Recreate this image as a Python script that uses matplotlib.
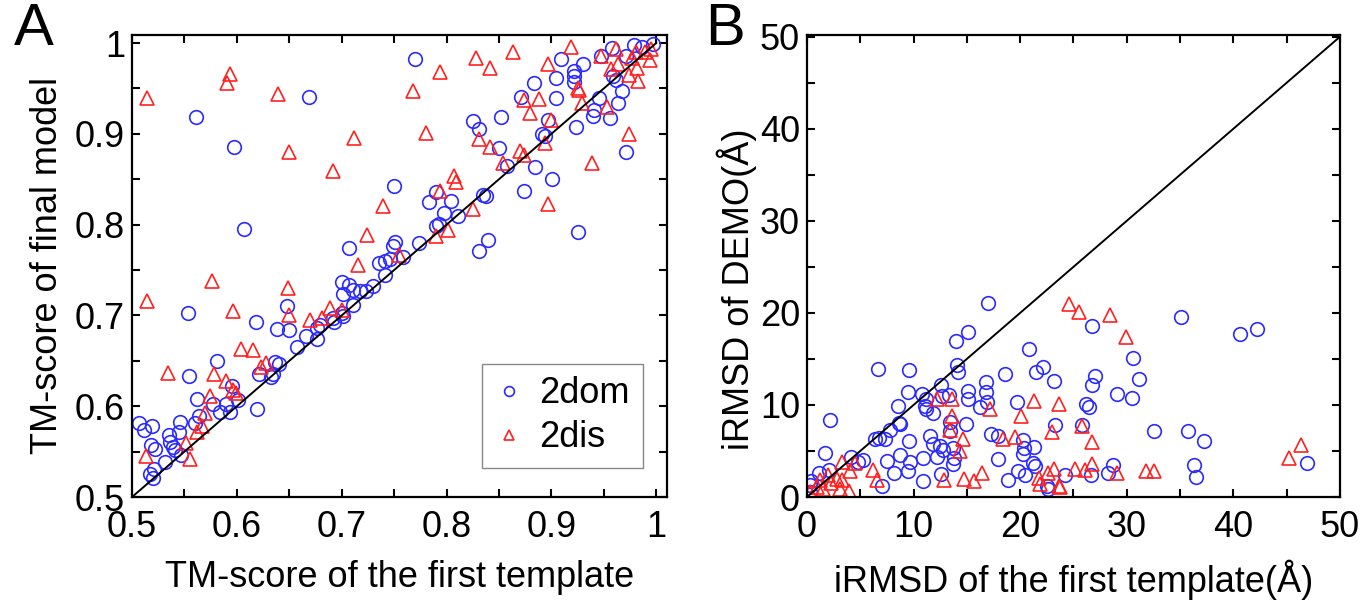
import matplotlib
matplotlib.use("Agg")
import matplotlib.pyplot as plt
from matplotlib.ticker import MultipleLocator

# ---------------- data ----------------

# panel A : TM-score, 2dom (blue circles)
domA_template = [0.669, 0.561, 0.597, 0.750, 0.607, 0.707, 0.749, 0.751,
                 0.770, 0.909, 0.930, 0.922, 0.922, 0.922, 0.947, 0.958, 0.979, 0.986, 0.997, 0.971,
                 0.959, 0.962, 0.967, 0.964, 0.945, 0.941, 0.940, 0.956, 0.971, 0.883, 0.904, 0.904,
                 0.871, 0.852, 0.825, 0.831, 0.897, 0.923, 0.891, 0.894, 0.850, 0.858, 0.884, 0.901,
                 0.874, 0.925, 0.835, 0.838, 0.804, 0.783, 0.790, 0.798, 0.811, 0.790, 0.793, 0.774,
                 0.831, 0.840,
                 0.736, 0.741, 0.746, 0.741, 0.700, 0.707, 0.711, 0.717, 0.723, 0.730, 0.701, 0.711,
                 0.700, 0.701, 0.693, 0.692, 0.676, 0.679, 0.676, 0.666, 0.657, 0.650, 0.638, 0.648,
                 0.618, 0.553, 0.581, 0.554, 0.636, 0.640, 0.621, 0.633, 0.634, 0.619, 0.595, 0.601,
                 0.590, 0.593, 0.584, 0.577, 0.562, 0.564, 0.560, 0.546, 0.545, 0.535, 0.536, 0.539,
                 0.541, 0.547, 0.531, 0.507, 0.511, 0.519, 0.518, 0.522, 0.521, 0.517, 0.520, 0.758]
domA_final = [0.941, 0.918, 0.886, 0.843, 0.795, 0.774, 0.776, 0.781,
              0.982, 0.982, 0.977, 0.969, 0.964, 0.957, 0.986, 0.995, 0.998, 0.996, 0.999, 0.986,
              0.964, 0.959, 0.947, 0.934, 0.939, 0.926, 0.920, 0.917, 0.880, 0.956, 0.961, 0.939,
              0.941, 0.919, 0.914, 0.905, 0.915, 0.907, 0.900, 0.898, 0.884, 0.865, 0.863, 0.850,
              0.837, 0.792, 0.833, 0.831, 0.826, 0.825, 0.836, 0.813, 0.810, 0.799, 0.801, 0.780,
              0.771, 0.783,
              0.758, 0.760, 0.762, 0.745, 0.737, 0.734, 0.728, 0.727, 0.727, 0.732, 0.724, 0.712,
              0.703, 0.699, 0.693, 0.697, 0.686, 0.689, 0.674, 0.677, 0.665, 0.684, 0.685, 0.710,
              0.693, 0.703, 0.650, 0.633, 0.649, 0.647, 0.636, 0.632, 0.636, 0.597, 0.622, 0.607,
              0.603, 0.594, 0.594, 0.602, 0.608, 0.589, 0.581, 0.583, 0.572, 0.568, 0.561, 0.555,
              0.552, 0.546, 0.539, 0.582, 0.574, 0.578, 0.557, 0.553, 0.531, 0.525, 0.521, 0.764]

# panel A : TM-score, 2dis (red triangles)
disA_template = [0.514, 0.593, 0.591, 0.639, 0.650, 0.712, 0.692, 0.739, 0.724,
                 0.828, 0.863, 0.919, 0.794, 0.841, 0.768, 0.897, 0.962, 0.947, 0.981, 0.989,
                 0.995, 0.977, 0.994, 0.964, 0.957, 0.982, 0.974, 0.983, 0.925, 0.926, 0.929,
                 0.953, 0.874, 0.888, 0.880, 0.900, 0.780, 0.831, 0.841, 0.894, 0.870, 0.874,
                 0.854, 0.974, 0.939, 0.807, 0.809, 0.794, 0.897, 0.825, 0.801, 0.790, 0.755,
                 0.716, 0.576, 0.514, 0.649, 0.596, 0.650, 0.689, 0.700, 0.670, 0.681, 0.604,
                 0.615, 0.623, 0.628, 0.534, 0.578, 0.590, 0.596, 0.599, 0.574, 0.570, 0.567,
                 0.562, 0.551, 0.513, 0.555]
disA_final = [0.940, 0.966, 0.956, 0.944, 0.880, 0.895, 0.859, 0.820, 0.789,
              0.983, 0.990, 0.996, 0.968, 0.972, 0.947, 0.977, 0.993, 0.986, 0.990, 0.990,
              0.993, 0.984, 0.981, 0.977, 0.971, 0.972, 0.965, 0.958, 0.951, 0.948, 0.934,
              0.930, 0.937, 0.938, 0.923, 0.915, 0.901, 0.894, 0.885, 0.890, 0.881, 0.877,
              0.868, 0.900, 0.868, 0.854, 0.847, 0.837, 0.823, 0.817, 0.794, 0.788, 0.767,
              0.756, 0.738, 0.716, 0.730, 0.705, 0.700, 0.708, 0.706, 0.695, 0.697, 0.663,
              0.662, 0.643, 0.648, 0.637, 0.636, 0.628, 0.618, 0.615, 0.611, 0.592, 0.578,
              0.572, 0.559, 0.545, 0.542]

# panel B : iRMSD, 2dom (blue circles)
domB_template = [17.0, 15.1, 14.0, 6.7, 9.6, 14.1, 14.2, 20.8, 21.5, 22.1, 18.6, 23.2, 12.6, 16.8,
                 16.8, 15.1, 15.1, 9.5, 10.8, 11.2, 12.7, 13.3, 11.1, 11.2, 11.8, 8.5, 16.2, 16.9,
                 19.7, 2.2, 8.7, 8.6, 7.8, 6.8, 7.3, 6.4, 14.9, 13.4, 13.4, 11.5, 11.8, 12.5, 12.8,
                 9.6, 17.3, 17.9, 20.3, 20.4, 20.3, 21.3, 13.7, 13.8, 13.7, 1.7, 5.3, 7.5, 8.7, 9.7,
                 10.9, 12.2, 17.9, 21.2, 21.4, 9.5, 8.2, 4.1, 4.8, 1.1, 2.1, 0.4, 0.3, 7.0, 10.9,
                 12.6, 19.8, 20.5, 18.9, 22.5, 22.6, 23.3, 24.2, 0.3,
                 35.1, 40.6, 42.2, 26.7, 30.6, 31.1, 27.0, 26.7, 29.1, 30.5, 26.2, 26.5, 25.8,
                 32.6, 35.7, 37.2, 36.3, 36.5, 46.9, 28.7, 28.2, 26.6]
domB_demo = [21.1, 17.9, 17.0, 13.9, 13.8, 14.3, 13.6, 16.1, 13.6, 14.1, 13.4, 12.6, 12.2, 12.5,
             11.4, 11.5, 10.7, 11.4, 11.2, 10.7, 11.0, 11.1, 9.9, 9.6, 9.1, 9.9, 9.8, 10.3,
             10.3, 8.4, 7.9, 8.0, 7.3, 6.4, 6.3, 6.3, 7.9, 8.1, 7.2, 6.6, 5.8, 5.5, 5.1,
             6.1, 6.8, 6.6, 6.2, 5.3, 4.7, 5.4, 5.3, 4.2, 3.6, 4.8, 4.0, 3.9, 4.6, 3.8,
             4.2, 4.3, 4.1, 3.7, 3.4, 2.8, 2.6, 4.4, 3.8, 2.6, 2.9, 1.7, 1.3, 1.2, 1.7,
             2.5, 2.8, 2.4, 1.8, 1.2, 0.9, 7.8, 2.4, 0.6,
             19.5, 17.7, 18.3, 18.6, 15.1, 12.8, 13.2, 12.2, 11.2, 10.8, 10.1, 9.8, 7.8,
             7.2, 7.2, 6.1, 3.5, 2.2, 3.7, 3.5, 2.6, 2.4]

# panel B : iRMSD, 2dis (red triangles)
disB_template = [24.6, 25.5, 28.4, 29.9, 12.2, 13.6, 13.6, 13.4, 14.6, 14.4, 17.2, 20.1, 21.3,
                 23.6, 23.0, 18.4, 19.5, 12.9, 14.7, 15.7, 16.4, 21.8, 21.9, 23.2, 22.6, 23.6,
                 6.2, 6.6, 3.3, 4.5, 4.0, 2.0, 2.8, 3.3, 3.1, 3.9, 1.2, 0.9, 0.3, 1.5, 2.3,
                 25.8, 26.7, 26.7, 25.1, 26.1, 29.1, 31.8, 32.6, 45.2, 46.3, 23.7]
disB_demo = [21.0, 20.1, 19.8, 17.4, 10.7, 10.7, 8.8, 7.3, 6.3, 5.0, 9.6, 8.8, 10.4,
             10.1, 7.1, 6.3, 6.5, 1.8, 2.0, 1.7, 2.6, 2.1, 1.4, 3.0, 2.6, 1.2,
             2.9, 1.8, 3.8, 3.7, 2.8, 2.4, 2.0, 1.9, 0.9, 0.7, 1.8, 1.1, 0.6, 0.9, 1.5,
             7.7, 6.0, 3.6, 3.0, 2.9, 2.6, 2.8, 2.8, 4.2, 5.7, 1.1]

tmTicks = [0.5, 0.6, 0.7, 0.8, 0.9, 1.0]
tmTickLabels = ["0.5", "0.6", "0.7", "0.8", "0.9", "1"]
rmsdTicks = [0, 10, 20, 30, 40, 50]
rmsdTickLabels = ["0", "10", "20", "30", "40", "50"]

# ---------------- plot ----------------

FS = 26
plt.rc('font', family=['Liberation Sans', 'DejaVu Sans'], size=FS)

blue = '#2b2bff'
red = '#ff2020'

fig = plt.figure(figsize=(13.64, 6.01), dpi=100)
axA = fig.add_axes([0.0968, 0.173, 0.392, 0.769])
axB = fig.add_axes([0.5916, 0.173, 0.3908, 0.769])


def style_axis(ax, minorStep):
    ax.xaxis.set_minor_locator(MultipleLocator(minorStep))
    ax.yaxis.set_minor_locator(MultipleLocator(minorStep))
    ax.tick_params(which='both', direction='in', top=True, right=True,
                   length=6, width=1.5, labelsize=FS)
    ax.tick_params(axis='x', pad=9)
    ax.tick_params(axis='y', pad=5)
    for spine in ax.spines.values():
        spine.set_linewidth(1.6)


# panel A
axA.plot([0.5, 1.0], [0.5, 1.0], color='k', lw=1.4, zorder=3)
axA.plot(domA_template, domA_final, ls='none', marker='o', markersize=9.8,
         markerfacecolor='none', markeredgecolor=blue, markeredgewidth=1.2, label='2dom')
axA.plot(disA_template, disA_final, ls='none', marker='^', markersize=10.5,
         markerfacecolor='none', markeredgecolor=red, markeredgewidth=1.2, label='2dis')
axA.set_xlim(0.5, 1.01)
axA.set_ylim(0.5, 1.009)
axA.set_xticks(tmTicks)
axA.set_xticklabels(tmTickLabels)
axA.set_yticks(tmTicks)
axA.set_yticklabels(tmTickLabels)
style_axis(axA, 0.05)
axA.set_xlabel("TM-score of the first template", fontsize=FS, labelpad=11)
axA.set_ylabel("TM-score of final model", fontsize=FS, labelpad=7)
leg = axA.legend(loc='lower right', fontsize=FS, fancybox=False, framealpha=1,
                 edgecolor='#888888', handlelength=0.8, handletextpad=0.45,
                 borderpad=0.35, labelspacing=0.25, borderaxespad=0,
                 bbox_to_anchor=(0.955, 0.063), markerscale=0.72)
leg.get_frame().set_linewidth(1.0)

# panel B
axB.plot([0, 50], [0, 50], color='k', lw=1.4, zorder=3)
axB.plot(domB_template, domB_demo, ls='none', marker='o', markersize=9.8,
         markerfacecolor='none', markeredgecolor=blue, markeredgewidth=1.2)
axB.plot(disB_template, disB_demo, ls='none', marker='^', markersize=10.5,
         markerfacecolor='none', markeredgecolor=red, markeredgewidth=1.2)
axB.set_xlim(0, 50)
axB.set_ylim(0, 50.2)
axB.set_xticks(rmsdTicks)
axB.set_xticklabels(rmsdTickLabels)
axB.set_yticks(rmsdTicks)
axB.set_yticklabels(rmsdTickLabels)
style_axis(axB, 5)
axB.set_xlabel("iRMSD of the first template(Å)", fontsize=FS, labelpad=11)
axB.set_ylabel("iRMSD of DEMO(Å)", fontsize=FS, labelpad=2)
axB.yaxis.label.set_y(0.45)

fig.text(0.010, 0.925, "A", fontsize=43)
fig.text(0.517, 0.925, "B", fontsize=43)

plt.savefig("out.png", dpi=100)
